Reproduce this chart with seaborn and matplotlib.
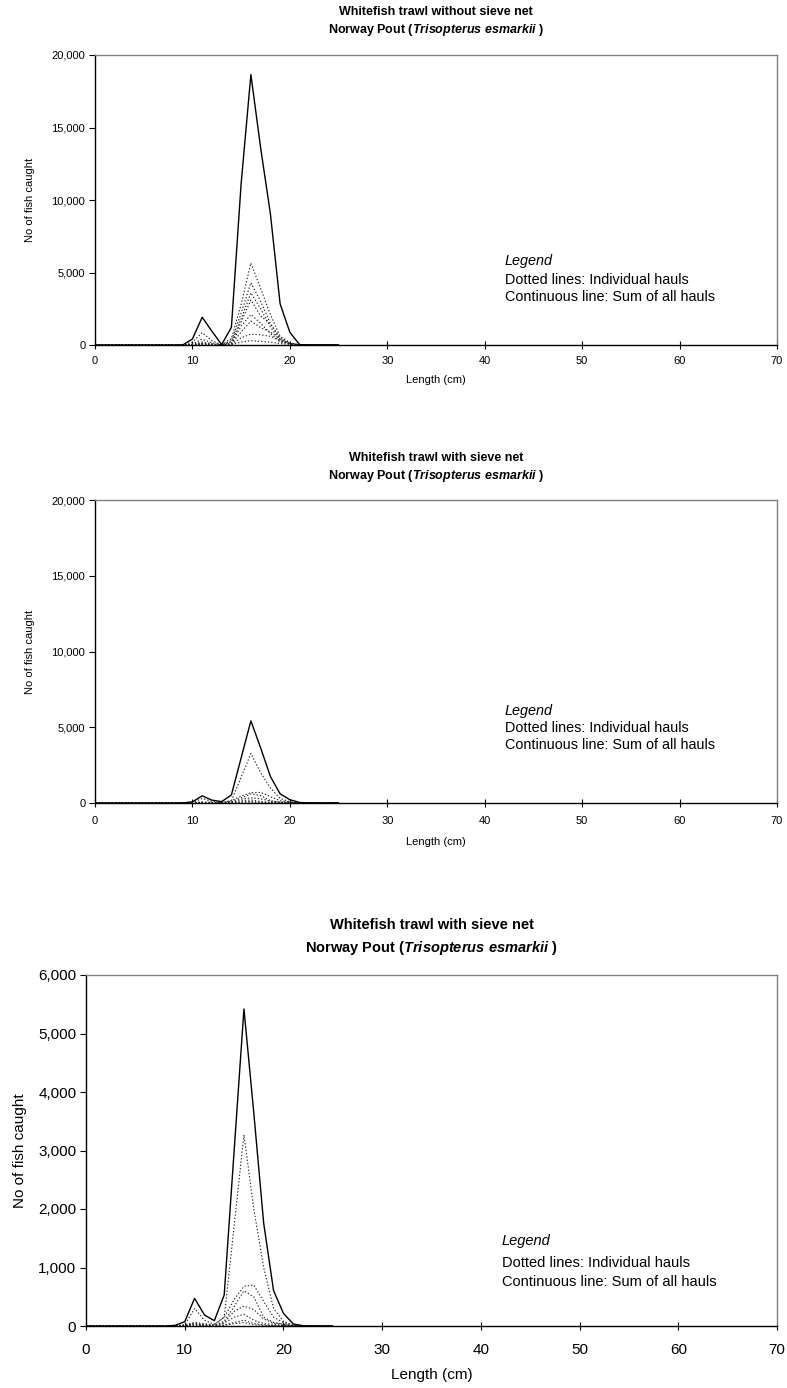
import matplotlib
matplotlib.use("Agg")
import matplotlib.pyplot as plt
import seaborn as sns
import numpy as np
from matplotlib.ticker import FuncFormatter, MultipleLocator

sns.set_theme(style="white")
plt.rcParams['font.family'] = ['Liberation Sans', 'DejaVu Sans']
plt.rcParams['text.color'] = 'black'
plt.rcParams['axes.labelcolor'] = 'black'
plt.rcParams['mathtext.fontset'] = 'custom'
plt.rcParams['mathtext.rm'] = 'Liberation Sans:bold'
plt.rcParams['mathtext.bf'] = 'Liberation Sans:bold'
plt.rcParams['mathtext.it'] = 'Liberation Sans:bold:italic'
plt.rcParams['mathtext.bfit'] = 'Liberation Sans:bold:italic'

lengths = list(range(0, 26))

# Panel 1: without sieve net
total_without = [0, 0, 0, 0, 0, 0, 0, 0, 0, 0, 415, 1915, 950, 30, 1220, 11130,
                 18650, 13600, 9060, 2840, 875, 30, 0, 0, 0, 0]
hauls_without = [
    [0]*9 + [0, 30, 100, 40, 0, 450, 2800, 5650, 3900, 2100, 600, 150, 0, 0, 0, 0, 0],
    [0]*9 + [0, 200, 850, 300, 10, 300, 2200, 4300, 3000, 1500, 420, 120, 0, 0, 0, 0, 0],
    [0]*9 + [0, 60, 400, 150, 10, 200, 1800, 3600, 2500, 1250, 300, 100, 0, 0, 0, 0, 0],
    [0]*9 + [0, 40, 200, 80, 0, 120, 1600, 3100, 2000, 1450, 520, 160, 0, 0, 0, 0, 0],
    [0]*9 + [0, 20, 120, 50, 0, 80, 1300, 2100, 1500, 800, 200, 80, 0, 0, 0, 0, 0],
    [0]*9 + [0, 10, 80, 30, 0, 60, 900, 1650, 1200, 900, 400, 120, 0, 0, 0, 0, 0],
    [0]*9 + [0, 0, 40, 10, 0, 30, 500, 750, 700, 600, 300, 80, 0, 0, 0, 0, 0],
    [0]*9 + [0, 0, 20, 0, 0, 20, 200, 300, 250, 200, 100, 40, 0, 0, 0, 0, 0],
]

# Panels 2 and 3: with sieve net
total_with = [0, 0, 0, 0, 0, 0, 0, 0, 0, 10, 74, 473, 188, 91, 530, 2980,
              5420, 3640, 1757, 605, 217, 34, 5, 0, 0, 0]
hauls_with = [
    [0]*9 + [0, 20, 60, 40, 20, 150, 1700, 3270, 2000, 1000, 300, 80, 10, 0, 0, 0, 0],
    [0]*9 + [0, 20, 300, 100, 30, 150, 450, 680, 700, 420, 150, 60, 10, 0, 0, 0, 0],
    [0]*9 + [0, 10, 40, 20, 10, 80, 330, 600, 500, 150, 60, 30, 5, 0, 0, 0, 0],
    [0]*9 + [0, 0, 20, 10, 10, 60, 250, 340, 280, 120, 50, 30, 0, 0, 0, 0, 0],
    [0]*9 + [0, 0, 20, 10, 10, 50, 150, 200, 100, 40, 30, 10, 0, 0, 0, 0, 0],
    [0]*9 + [0, 10, 50, 10, 5, 20, 60, 100, 40, 20, 10, 5, 0, 0, 0, 0, 0],
    [0]*9 + [0, 5, 20, 5, 5, 10, 40, 60, 20, 10, 5, 0, 0, 0, 0, 0, 0],
]

titles = ["Whitefish trawl without sieve net",
          "Whitefish trawl with sieve net",
          "Whitefish trawl with sieve net"]
subtitle = r"Norway Pout ($\mathbfit{Trisopterus\ esmarkii}$ )"
legend_lines = ["Legend", "Dotted lines: Individual hauls",
                "Continuous line: Sum of all hauls"]

fig = plt.figure(figsize=(7.87, 13.88), dpi=100)

W, H = 787, 1388
def rect(l, t, r, b):
    return [l / W, 1 - b / H, (r - l) / W, (b - t) / H]

panels = [
    dict(px=(95, 55, 777, 345), total=total_without, hauls=hauls_without,
         ymax=20000, ystep=5000, title=titles[0], fs=8, lfs=10.4, tfs=9,
         title_y=(12, 30), leg=(0.601, [261, 280, 297]), ylab_x=30,
         xlab_y=380, xpad=5),
    dict(px=(95, 500, 777, 803), total=total_with, hauls=hauls_with,
         ymax=20000, ystep=5000, title=titles[1], fs=8, lfs=10.4, tfs=9,
         title_y=(458, 476), leg=(0.601, [711, 728, 745]), ylab_x=30,
         xlab_y=842, xpad=6),
    dict(px=(86, 975, 777, 1326), total=total_with, hauls=hauls_with,
         ymax=6000, ystep=1000, title=titles[2], fs=11, lfs=10.5, tfs=10.5,
         title_y=(925, 948), leg=(0.602, [1241, 1263, 1282]), ylab_x=20,
         xlab_y=1375, xpad=9),
]

fmt = FuncFormatter(lambda v, p: f"{int(v):,}")

for p in panels:
    l_, t_, r_, b_ = p["px"]
    ax = fig.add_axes(rect(l_, t_, r_, b_))
    for h in p["hauls"]:
        sns.lineplot(x=lengths, y=h, ax=ax, color="#222222", lw=0.8,
                     linestyle=(0, (1.2, 1.8)))
    sns.lineplot(x=lengths, y=p["total"], ax=ax, color="black", lw=1.0)
    ax.set_xlim(0, 70)
    ax.set_ylim(0, p["ymax"])
    ax.xaxis.set_major_locator(MultipleLocator(10))
    ax.yaxis.set_major_locator(MultipleLocator(p["ystep"]))
    ax.yaxis.set_major_formatter(fmt)
    ax.tick_params(axis="both", labelsize=p["fs"], colors="black",
                   direction="out", length=4, width=0.8, pad=3,
                   left=True, bottom=True)
    ax.tick_params(axis="x", direction="inout", length=6, pad=p["xpad"])
    for s in ["top", "right"]:
        ax.spines[s].set_color("#808080")
        ax.spines[s].set_linewidth(1.0)
    for s in ["left", "bottom"]:
        ax.spines[s].set_color("black")
        ax.spines[s].set_linewidth(1.0)
    ax.set_xlabel("Length (cm)", fontsize=p["fs"])
    ax.set_ylabel("No of fish caught", fontsize=p["fs"])
    wpx, hpx = r_ - l_, b_ - t_
    ax.yaxis.set_label_coords((p["ylab_x"] - l_) / wpx, 0.5)
    ax.xaxis.set_label_coords(0.5, (b_ - p["xlab_y"]) / hpx)
    ax.xaxis.label.set_va("center")
    ax.yaxis.label.set_va("center")
    # titles
    cx = (l_ + r_) / 2 / W
    fig.text(cx, 1 - p["title_y"][0] / H, p["title"], ha="center", va="center",
             fontsize=p["tfs"], fontweight="bold")
    fig.text(cx, 1 - p["title_y"][1] / H, subtitle, ha="center", va="center",
             fontsize=p["tfs"], fontweight="bold")
    # legend text
    lx, lys = p["leg"]
    for i, (txt, ypx) in enumerate(zip(legend_lines, lys)):
        yf = (b_ - ypx) / hpx
        ax.text(lx, yf, txt, transform=ax.transAxes, ha="left", va="center",
                fontsize=p["lfs"], fontstyle="italic" if i == 0 else "normal")

fig.savefig("out.png", dpi=100)
